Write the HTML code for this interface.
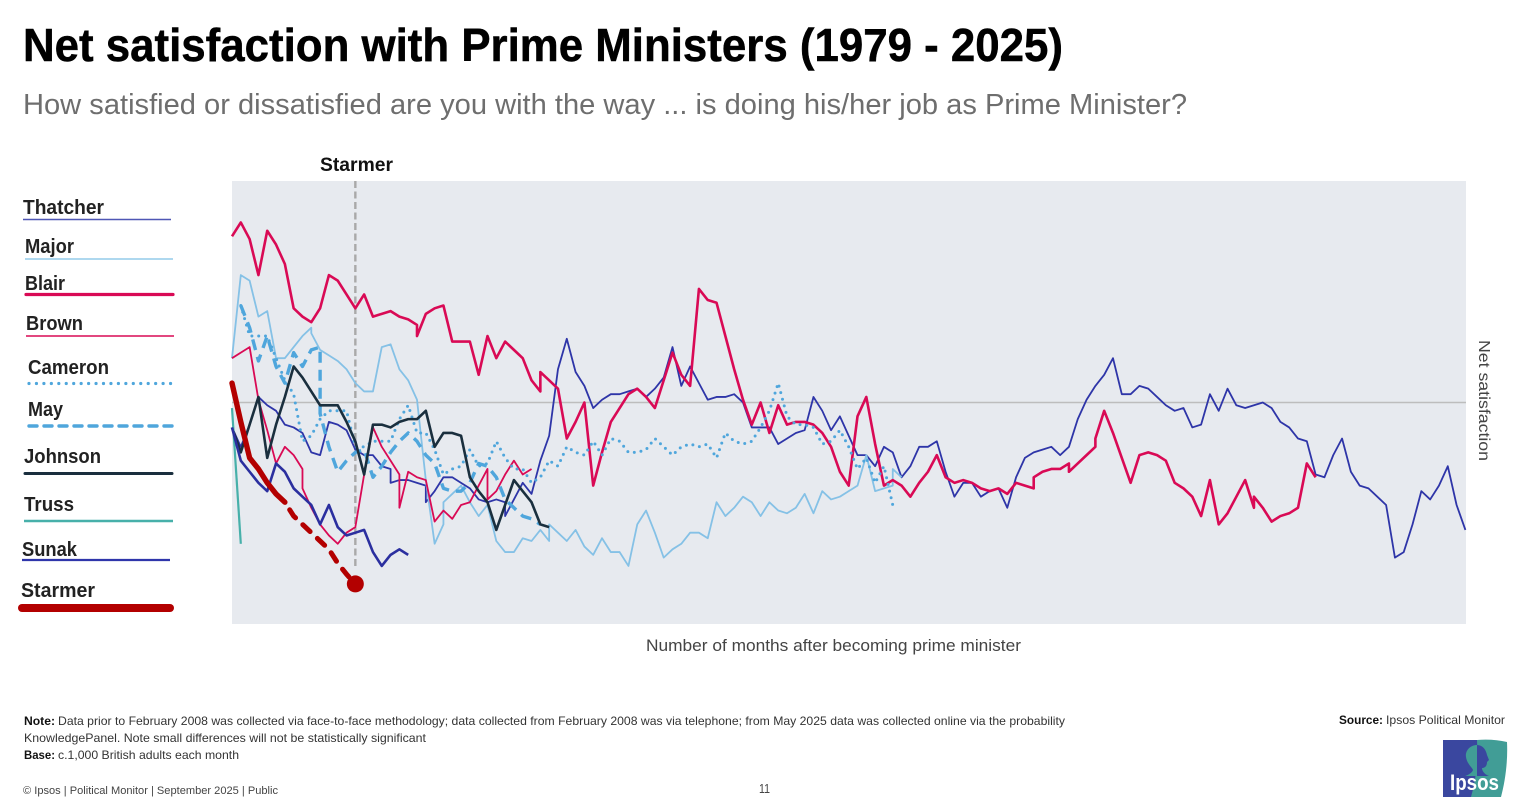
<!DOCTYPE html>
<html lang="en">
<head>
<meta charset="utf-8">
<title>Net satisfaction with Prime Ministers (1979 - 2025)</title>
<style>
html,body{margin:0;padding:0;background:#fff;width:1525px;height:807px;overflow:hidden}
svg{display:block;font-family:"Liberation Sans",sans-serif}
.leg{font-size:20px;font-weight:700;fill:#222}
.note{font-size:12px;fill:#333}
.noteb{font-size:12px;font-weight:700;fill:#111}
</style>
</head>
<body>
<svg id="page" xmlns="http://www.w3.org/2000/svg" width="1525" height="807" viewBox="0 0 1525 807">
  <rect x="0" y="0" width="1525" height="807" fill="#ffffff"/>
  <text x="23" y="61" font-size="46" font-weight="700" fill="#000" stroke="#000" stroke-width="0.5" textLength="1040" lengthAdjust="spacingAndGlyphs">Net satisfaction with Prime Ministers (1979 - 2025)</text>
  <text x="23" y="114" font-size="29" fill="#6e6e6e" textLength="1164" lengthAdjust="spacingAndGlyphs">How satisfied or dissatisfied are you with the way ... is doing his/her job as Prime Minister?</text>

  <rect x="232" y="181" width="1234" height="443" fill="#e7eaef"/>
  <g id="chart"></g>

  <text x="320" y="171" font-size="19" font-weight="700" fill="#111" textLength="73" lengthAdjust="spacingAndGlyphs">Starmer</text>
  <text x="646" y="651" font-size="17" fill="#444" textLength="375" lengthAdjust="spacingAndGlyphs">Number of months after becoming prime minister</text>
  <text transform="translate(1479,340) rotate(90)" font-size="16" fill="#444" textLength="121" lengthAdjust="spacingAndGlyphs">Net satisfaction</text>

  <g>
    <g>
      <text class="leg" x="23" y="214" textLength="81" lengthAdjust="spacingAndGlyphs">Thatcher</text>
      <line x1="23" x2="171" y1="219.5" y2="219.5" stroke="#4f57b5" stroke-width="1.4"/>
    </g>
    <g>
      <text class="leg" x="25" y="253" textLength="49" lengthAdjust="spacingAndGlyphs">Major</text>
      <line x1="25" x2="173" y1="259" y2="259" stroke="#93cbea" stroke-width="1.6"/>
    </g>
    <g>
      <text class="leg" x="25" y="290" textLength="40" lengthAdjust="spacingAndGlyphs">Blair</text>
      <line x1="26" x2="173" y1="294.5" y2="294.5" stroke="#d90a55" stroke-width="3.2" stroke-linecap="round"/>
    </g>
    <g>
      <text class="leg" x="26" y="330" textLength="57" lengthAdjust="spacingAndGlyphs">Brown</text>
      <line x1="26" x2="174" y1="336" y2="336" stroke="#d90a55" stroke-width="1.6"/>
    </g>
    <g>
      <text class="leg" x="28" y="374" textLength="81" lengthAdjust="spacingAndGlyphs">Cameron</text>
      <line x1="29" x2="176" y1="383.5" y2="383.5" stroke="#4fa6dc" stroke-width="3.2" stroke-linecap="round" stroke-dasharray="0 7.45"/>
    </g>
    <g>
      <text class="leg" x="28" y="416" textLength="35" lengthAdjust="spacingAndGlyphs">May</text>
      <line x1="29" x2="172" y1="426" y2="426" stroke="#4fa6dc" stroke-width="3.4" stroke-linecap="round" stroke-dasharray="8 7"/>
    </g>
    <g>
      <text class="leg" x="24" y="463" textLength="77" lengthAdjust="spacingAndGlyphs">Johnson</text>
      <line x1="25" x2="172" y1="473.5" y2="473.5" stroke="#1a2f3e" stroke-width="3" stroke-linecap="round"/>
    </g>
    <g>
      <text class="leg" x="24" y="511" textLength="50" lengthAdjust="spacingAndGlyphs">Truss</text>
      <line x1="24" x2="173" y1="521" y2="521" stroke="#47b0aa" stroke-width="2.4"/>
    </g>
    <g>
      <text class="leg" x="22" y="556" textLength="55" lengthAdjust="spacingAndGlyphs">Sunak</text>
      <line x1="22" x2="170" y1="560" y2="560" stroke="#2f36ab" stroke-width="2.2"/>
    </g>
    <g>
      <text class="leg" x="21" y="597" textLength="74" lengthAdjust="spacingAndGlyphs">Starmer</text>
      <line x1="22" x2="170" y1="608" y2="608" stroke="#b30000" stroke-width="8" stroke-linecap="round"/>
    </g>
  </g>

  <g>
    <text class="noteb" x="24" y="725" textLength="31" lengthAdjust="spacingAndGlyphs">Note:</text>
    <text class="note" x="58" y="725" textLength="1007" lengthAdjust="spacingAndGlyphs">Data prior to February 2008 was collected via face-to-face methodology; data collected from February 2008 was via telephone; from May 2025 data was collected online via the probability</text>
    <text class="note" x="24" y="742" textLength="402" lengthAdjust="spacingAndGlyphs">KnowledgePanel. Note small differences will not be statistically significant</text>
    <text class="noteb" x="24" y="759" textLength="31" lengthAdjust="spacingAndGlyphs">Base:</text>
    <text class="note" x="58" y="759" textLength="181" lengthAdjust="spacingAndGlyphs">c.1,000 British adults each month</text>
    <text class="noteb" x="1339" y="724" textLength="44" lengthAdjust="spacingAndGlyphs">Source:</text>
    <text class="note" x="1386" y="724" textLength="119" lengthAdjust="spacingAndGlyphs">Ipsos Political Monitor</text>
    <text x="23" y="794" font-size="11" fill="#444" textLength="255" lengthAdjust="spacingAndGlyphs">© Ipsos | Political Monitor | September 2025 | Public</text>
    <text x="759" y="793" font-size="13" fill="#444" textLength="11" lengthAdjust="spacingAndGlyphs">11</text>
  </g>

  <g>
    <path d="M1443 740H1478C1478 760 1476 780 1472 797H1443Z" fill="#3a479f"/>
    <path d="M1477 740C1488 739 1498 740 1507 742C1508 762 1505 782 1501 797H1471C1476 780 1478 760 1477 740Z" fill="#419d96"/>
    <path d="M1477 745C1470 745 1465 751 1466 757C1467 764 1472 767 1473 770C1472 773 1468 775 1465 776H1477Z" fill="#419d96"/>
    <path d="M1477 745C1483 745 1486 750 1487 755L1489 760L1487 762C1487 767 1484 768 1482 768C1482 772 1486 775 1489 776H1477Z" fill="#3a479f"/>
    <text x="1450" y="790" font-size="22" font-weight="700" fill="#ffffff" textLength="49" lengthAdjust="spacingAndGlyphs">Ipsos</text>
  </g>
</svg>

<script>
// Net satisfaction by month in office (index = months after becoming PM; null = no reading)
var thatcher = [-9,-16,-8,2,-1,-3,-8,-9,-11,-18,-19,-7,-8,-10,-17,-19,-19,-23,-24,-28,-28,-29,-30,-32,-27,-27,-29,-31,-35,-36,-35,-36,-35,-29,-33,-21,-12,12,23,11,6,-2,1,3,3,4,5,2,5,9,20,6,13,7,1,2,2,3,0,-9,-9,-9,-15,-13,-11,-10,2,-3,-10,-5,-12,-19,-19,-23,-16,-18,-27,-23,-16,-16,-14,-25,-34,-29,-29,-34,-32,-31,-38,-27,-20,-18,-17,-16,-19,-16,-6,1,6,10,16,3,3,6,5,2,-1,-3,-2,-9,-8,3,-3,5,-1,-2,-1,0,-2,-7,-9,-13,-14,-26,-27,-19,-13,-25,-30,-31,-34,-37,-56,-54,-44,-32,-35,-30,-23,-37,-46];
var major = [16,46,44,31,33,16,16,20,24,27,19,17,15,12,7,4,4,20,21,12,8,1,-28,-51,-44,-33,-30,-36,-41,-37,-50,-54,-54,-49,-50,-46,-50,-47,-50,-46,-52,-55,-49,-54,-54,-59,-44,-39,-47,-56,-53,-51,-47,-47,-49,-36,-41,-38,-34,-36,-41,-36,-39,-40,-38,-33,-40,-32,-35,-34,-32,-30,-19,-32,-31,-30,-27];
var blair = [60,65,59,46,62,57,50,34,31,29,34,46,44,39,34,39,31,32,33,31,30,28,32,34,35,22,22,22,10,24,16,22,19,16,8,4,8,5,-13,-7,0,-30,-18,-7,-2,3,5,2,-2,8,18,10,6,41,37,36,24,12,1,-8,0,-11,-1,-8,-7,-7,-8,-11,-16,-25,-30,-5,2,-15,-30,-28,-30,-34,-29,-25,-19,-27,-29,-28,-29,-31,-32,-31,-33,-29,-30,-31,-25,-24,-24,-22,-22,-19,-16,-3,-11,-20,-29,-19,-18,-19,-21,-29,-31,-34,-41,-28,-44,-40,-34,-28,-38,-38,-43,-41,-40,-38,-22,-27];
var brown = [16,18,20,1,-10,-22,-16,-19,-24,-38,-44,-48,-51,-47,-45,-26,-9,-16,-21,-26,-25,-27,-28,-43,-39,-42,-37,-36,-30,-24,-32,-26,-21,-26,-24];
var cameron = [null,35,24,24,24,16,8,3,-14,-12,-6,-3,-3,-3,-16,-16,-14,-14,-14,-6,-1,-11,-11,-17,-26,-24,-23,-17,-23,-22,-14,-20,-24,-24,-29,-27,-21,-23,-16,-18,-19,-14,-19,-13,-14,-18,-18,-17,-13,-16,-19,-16,-15,-16,-15,-20,-11,-14,-15,-14,-9,-3,7,-5,-8,-8,-9,-15,-14,-10,-16,-24,-20,-29,-23,-37];
var may = [null,35,27,15,24,13,7,18,13,19,20,-16,-25,-21,-18,-17,-27,-23,-18,-14,-11,-14,-19,-22,-31,-32,-32,-29,-22,-23,-27,-35,-38,-41,-42,-44];
var johnson = [-9,-18,-8,2,-20,-8,2,13,9,4,-1,-1,-1,-7,-14,-26,-8,-8,-9,-7,-6,-6,-3,-16,-11,-11,-12,-27,-32,-36,-46,-37,-28,-32,-36,-44,-45];
var truss = [-2,-51];
var sunak = [-9,-21,-25,-29,-32,-22,-25,-31,-34,-37,-44,-37,-45,-48,-47,-46,-54,-59,-55,-53,-55];
var starmer = [7,-7,-20,-24,-29,-33,-36,-41,-44,-47,-50,-53,-58,-62,-65.5];
var starmerSolidUntil = 6;
var currentMonth = 14;

// Second poll in the same month: month index and reading, drawn right after the first reading
var thatcherRepeatMonths = [18,22,31];
var thatcherRepeatValues = [-29,-36,-41];
var majorRepeatMonths = [9,24,36,75];
var majorRepeatValues = [25,-36,-44,-24];
var blairRepeatMonths = [21,35,91,95,98,116];
var blairRepeatValues = [24,11,-27,-25,-13,-34];
var brownRepeatMonths = [8,19,29];
var brownRepeatValues = [-31,-38,-35];
var mayRepeatMonths = [10];
var mayRepeatValues = [-4];

var NS = 'http://www.w3.org/2000/svg';
var chart = document.getElementById('chart');
function xScale(m){ return 232 + 8.81 * m; }
function yScale(v){ return 402.5 - 2.77 * v; }
function pointsFor(values, from, to, repeatMonths, repeatValues){
  var out = [];
  for (var i = from; i < to; i++) {
    if (values[i] !== null) out.push(xScale(i).toFixed(2) + ',' + yScale(values[i]).toFixed(2));
    if (repeatMonths) {
      var k = repeatMonths.indexOf(i);
      if (k >= 0) out.push(xScale(i).toFixed(2) + ',' + yScale(repeatValues[k]).toFixed(2));
    }
  }
  return out.join(' ');
}
function polyline(points, color, width, dash, cap){
  var p = document.createElementNS(NS, 'polyline');
  p.setAttribute('points', points);
  p.setAttribute('fill', 'none');
  p.setAttribute('stroke', color);
  p.setAttribute('stroke-width', width);
  p.setAttribute('stroke-linejoin', 'round');
  p.setAttribute('stroke-linecap', cap || 'butt');
  if (dash) p.setAttribute('stroke-dasharray', dash);
  chart.appendChild(p);
  return p;
}

var zero = document.createElementNS(NS, 'line');


zero.setAttribute('x1', 232);
zero.setAttribute('x2', 1466);
zero.setAttribute('y1', yScale(0));
zero.setAttribute('y2', yScale(0));
zero.setAttribute('stroke', '#bdbdbd');
zero.setAttribute('stroke-width', 1.5);
chart.appendChild(zero);

var marker = document.createElementNS(NS, 'line');


marker.setAttribute('x1', xScale(currentMonth));
marker.setAttribute('x2', xScale(currentMonth));
marker.setAttribute('y1', 181);
marker.setAttribute('y2', 568);
marker.setAttribute('stroke', '#a9a9a9');
marker.setAttribute('stroke-width', 2.4);
marker.setAttribute('stroke-dasharray', '7 3.5');
chart.appendChild(marker);

var l;
l = polyline(pointsFor(thatcher, 0, thatcher.length, thatcherRepeatMonths, thatcherRepeatValues), '#2e35a8', 1.8);


l = polyline(pointsFor(major, 0, major.length, majorRepeatMonths, majorRepeatValues), '#85c1e6', 1.8);


l = polyline(pointsFor(blair, 0, blair.length, blairRepeatMonths, blairRepeatValues), '#d90a55', 2.6);


l = polyline(pointsFor(brown, 0, brown.length, brownRepeatMonths, brownRepeatValues), '#d90a55', 1.8);


l = polyline(pointsFor(cameron, 0, cameron.length), '#4fa6dc', 3, '0 6.8', 'round');


l = polyline(pointsFor(may, 0, may.length, mayRepeatMonths, mayRepeatValues), '#4fa6dc', 3.4, '11 7');


l = polyline(pointsFor(johnson, 0, johnson.length), '#1a2f3e', 2.6);


l = polyline(pointsFor(truss, 0, truss.length), '#47b0aa', 2.2);


l = polyline(pointsFor(sunak, 0, sunak.length), '#2b2f9f', 2.6);


l = polyline(pointsFor(starmer, 0, starmerSolidUntil + 1), '#b30000', 5.4, null, 'round');


l = polyline(pointsFor(starmer, starmerSolidUntil, starmer.length), '#b30000', 5, '10 10', 'round');
l.setAttribute('stroke-dashoffset', '-9');



var last = starmer.length - 1;
var dot = document.createElementNS(NS, 'circle');


dot.setAttribute('cx', xScale(last));
dot.setAttribute('cy', yScale(starmer[last]));
dot.setAttribute('r', 8.5);
dot.setAttribute('fill', '#b30000');
chart.appendChild(dot);
</script>
</body>
</html>
